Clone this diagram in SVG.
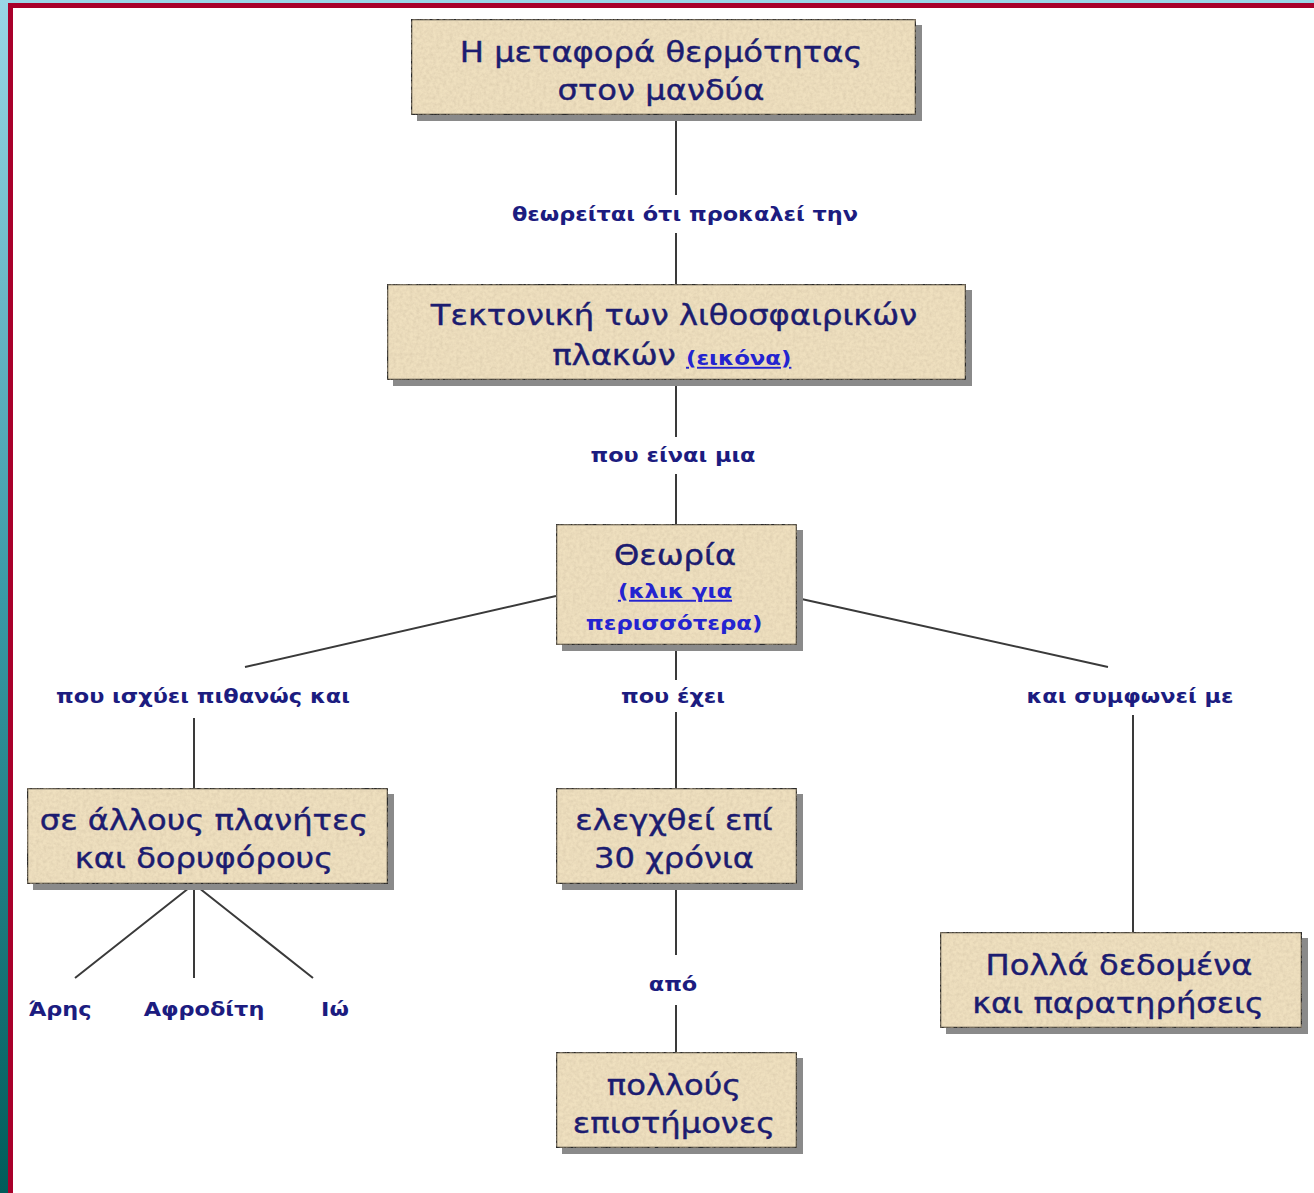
<svg xmlns="http://www.w3.org/2000/svg" width="1314" height="1193" viewBox="0 0 1314 1193">
<defs>
<linearGradient id="side" x1="0" y1="0" x2="0" y2="1">
<stop offset="0" stop-color="#9ad6e6"/>
<stop offset="0.5" stop-color="#3a9aa6"/>
<stop offset="1" stop-color="#005c5a"/>
</linearGradient>
<filter id="paper" x="0" y="0" width="1" height="1">
<feTurbulence type="fractalNoise" baseFrequency="0.3" numOctaves="3" seed="4" result="n"/>
<feColorMatrix in="n" type="matrix" values="0 0 0 0 0.6  0 0 0 0 0.5  0 0 0 0 0.35  0 0 0 0.8 -0.25" result="c"/>
<feComposite in="c" in2="SourceGraphic" operator="in" result="t"/>
<feMerge><feMergeNode in="SourceGraphic"/><feMergeNode in="t"/></feMerge>
</filter>
</defs>
<style>
.box{fill:#efe0bf;stroke:#2a2a2a;stroke-width:2.5;filter:url(#paper)}
.sh{fill:#8a8a8a}
.t{font-family:"DejaVu Sans",Verdana,sans-serif;font-size:28px;fill:#1c1c70;stroke:#1c1c70;stroke-width:0.4;text-anchor:middle}
.lk{font-family:"DejaVu Sans",Verdana,sans-serif;font-weight:bold;font-size:19px;fill:#2424d0;text-decoration:underline}
.lk2{font-family:"DejaVu Sans",Verdana,sans-serif;font-weight:bold;font-size:19px;fill:#2424d0;text-anchor:middle}
.lb{font-family:"DejaVu Sans",Verdana,sans-serif;font-weight:bold;font-size:19px;fill:#1c1c80;text-anchor:middle}
.c{stroke:#3a3a3a;stroke-width:2;fill:none}
</style>
<rect x="0" y="0" width="1314" height="1193" fill="#ffffff"/>
<rect x="0" y="0" width="1314" height="3" fill="#9ad6e6"/>
<rect x="0" y="0" width="8" height="1193" fill="url(#side)"/>
<rect x="8" y="3" width="1306" height="5" fill="#a8002a"/>
<rect x="8" y="3" width="5" height="1190" fill="#a8002a"/>

<g id="connectors">
<path class="c" d="M676 115V195M676 233V284"/>
<path class="c" d="M676 380V437M676 474V524"/>
<path class="c" d="M556 596L245 667M797 598L1108 667"/>
<path class="c" d="M676 645V680M676 712V788"/>
<path class="c" d="M194 718V788M1133 715V932"/>
<path class="c" d="M676 884V955M676 1005V1052"/>
<path class="c" d="M194 884L75 978M194 884V978M194 884L313 978"/>
</g>
<g id="labels">
<text class="lb" transform="translate(685,221) scale(1.18,1)">θεωρείται ότι προκαλεί την</text>
<text class="lb" transform="translate(673,462) scale(1.18,1)">που είναι μια</text>
<text class="lb" transform="translate(203,703) scale(1.18,1)">που ισχύει πιθανώς και</text>
<text class="lb" transform="translate(673,703) scale(1.18,1)">που έχει</text>
<text class="lb" transform="translate(1130,703) scale(1.18,1)">και συμφωνεί με</text>
<text class="lb" transform="translate(673,991) scale(1.18,1)">από</text>
<text class="lb" transform="translate(60,1016) scale(1.18,1)">Άρης</text>
<text class="lb" transform="translate(204,1016) scale(1.18,1)">Αφροδίτη</text>
<text class="lb" transform="translate(335,1016) scale(1.18,1)">Ιώ</text>
</g>

<g id="n1">
<rect class="sh" x="417" y="25" width="505" height="96"/>
<rect class="box" x="411" y="19" width="505" height="96"/>
<text class="t" transform="translate(661,62) scale(1.15,1)">Η μεταφορά θερμότητας</text>
<text class="t" transform="translate(661,100) scale(1.15,1)">στον μανδύα</text>
</g>
<g id="n2">
<rect class="sh" x="393" y="290" width="579" height="96"/>
<rect class="box" x="387" y="284" width="579" height="96"/>
<text class="t" transform="translate(674,325) scale(1.15,1)">Τεκτονική των λιθοσφαιρικών</text>
<text class="t" transform="translate(614,365) scale(1.15,1)">πλακών</text>
<text class="lk" transform="translate(686,365) scale(1.2,1)">(εικόνα)</text>
</g>
<g id="n3">
<rect class="sh" x="562" y="530" width="241" height="121"/>
<rect class="box" x="556" y="524" width="241" height="121"/>
<text class="t" transform="translate(675,565) scale(1.15,1)">Θεωρία</text>
<text class="lk2" transform="translate(675,598) scale(1.2,1)" text-decoration="underline">(κλικ για</text>
<text class="lk2" transform="translate(674,630) scale(1.2,1)">περισσότερα)</text>
</g>
<g id="n4">
<rect class="sh" x="33" y="794" width="361" height="96"/>
<rect class="box" x="27" y="788" width="361" height="96"/>
<text class="t" transform="translate(204,830) scale(1.15,1)">σε άλλους πλανήτες</text>
<text class="t" transform="translate(204,868) scale(1.15,1)">και δορυφόρους</text>
</g>
<g id="n5">
<rect class="sh" x="562" y="794" width="241" height="96"/>
<rect class="box" x="556" y="788" width="241" height="96"/>
<text class="t" transform="translate(674,830) scale(1.15,1)">ελεγχθεί επί</text>
<text class="t" transform="translate(674,868) scale(1.15,1)">30 χρόνια</text>
</g>
<g id="n6">
<rect class="sh" x="946" y="938" width="362" height="96"/>
<rect class="box" x="940" y="932" width="362" height="96"/>
<text class="t" transform="translate(1119,975) scale(1.15,1)">Πολλά δεδομένα</text>
<text class="t" transform="translate(1118,1013) scale(1.15,1)">και παρατηρήσεις</text>
</g>
<g id="n7">
<rect class="sh" x="562" y="1058" width="241" height="96"/>
<rect class="box" x="556" y="1052" width="241" height="96"/>
<text class="t" transform="translate(674,1095) scale(1.15,1)">πολλούς</text>
<text class="t" transform="translate(674,1133) scale(1.15,1)">επιστήμονες</text>
</g>
</svg>
